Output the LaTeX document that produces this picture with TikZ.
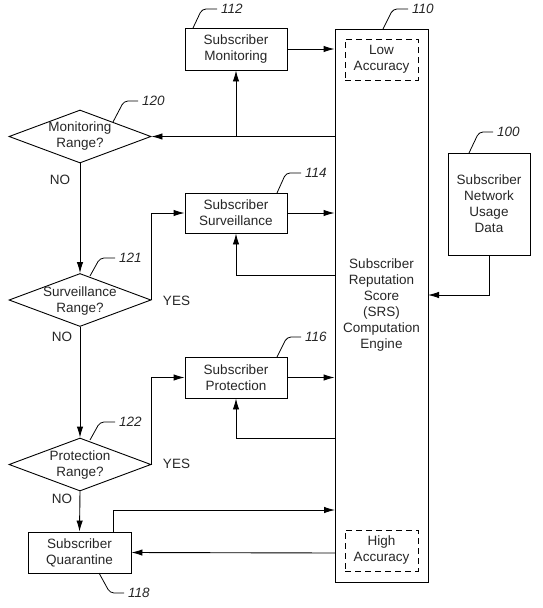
\documentclass[tikz,border=0pt]{standalone}
\usepackage{fontspec}
\setmainfont{Liberation Sans}
\usetikzlibrary{shapes.geometric,arrows.meta}
\tikzset{
  every node/.style={font=\fontsize{13.5}{16}\selectfont, text=black!85},
  box/.style={draw, line width=0.9pt, inner sep=0pt, align=center},
  dia/.style={draw, line width=0.9pt, shape=diamond, inner sep=0pt, minimum width=142pt, minimum height=53pt},
  dtxt/.style={align=center, inner sep=0pt},
  acc/.style={draw, line width=0.9pt, dash pattern=on 6pt off 4pt, inner sep=0pt, minimum width=73pt, minimum height=41pt, align=center},
  arr/.style={line width=0.9pt, -{Latex[length=11pt,width=6.5pt]}},
  ln/.style={line width=0.9pt},
  lead/.style={line width=0.8pt, rounded corners=4pt},
  num/.style={font=\fontsize{13.5}{16}\selectfont\itshape, anchor=west, inner sep=1pt},
  yn/.style={inner sep=0pt}
}
\begin{document}
\begin{tikzpicture}[x=1pt,y=-1pt]
\useasboundingbox (0,0) rectangle (542,608);
% engine
\node[box, minimum width=93pt, minimum height=553pt] (eng) at (381.5,305.5) {Subscriber\\Reputation\\Score\\(SRS)\\Computation\\Engine};
\node[acc] (low) at (381.5,59.5) {Low\\Accuracy};
\node[acc] (high) at (381.5,550.5) {High\\Accuracy};
% data
\node[box, minimum width=82pt, minimum height=102pt] (net) at (489,204) {Subscriber\\Network\\Usage\\Data};
% action boxes
\node[box, minimum width=102pt, minimum height=42pt] (mon) at (236,49) {Subscriber\\Monitoring};
\node[box, minimum width=102pt, minimum height=40pt] (sur) at (236,213) {Subscriber\\Surveillance};
\node[box, minimum width=102pt, minimum height=41pt] (pro) at (236,377.5) {Subscriber\\Protection};
\node[box, minimum width=103pt, minimum height=41pt] (qua) at (79.5,552.5) {Subscriber\\Quarantine};
% diamonds
\node[dia] (d1) at (80,136.5) {};
\node[dtxt] (d1t) at (80,136.5) {Monitoring\\Range?};
\node[dia] (d2) at (80,300) {};
\node[dtxt] (d2t) at (80,301) {Surveillance\\Range?};
\node[dia] (d3) at (80,464.5) {};
\node[dtxt] (d3t) at (80,465) {Protection\\Range?};
% yes/no labels
\node[yn] (no1) at (60,180) {NO};
\node[yn] (no2) at (62,337) {NO};
\node[yn] (no3) at (62,499) {NO};
\node[yn] (yes2) at (176.5,301) {YES};
\node[yn] (yes3) at (176.5,464) {YES};
% coordinates
\coordinate (s1) at (335,275);
\coordinate (p1) at (335,438);
\coordinate (q1) at (113,532);
\coordinate (q2) at (335,510);
\coordinate (q3) at (335,553);
\coordinate (n1) at (428,295);
% connectors
\draw[arr] (mon.east) -- (mon.east -| eng.west);
\draw[arr] (d1.east -| eng.west) -- (d1.east);
\draw[arr] (d1.east -| mon.south) -- (mon.south);
\draw[arr] (d1.south) -- (d2.north);
\draw[arr] (d2.east) |- (sur.west);
\draw[arr] (sur.east) -- (sur.east -| eng.west);
\draw[arr] (s1) -| (sur.south);
\draw[arr] (d2.south) -- (d3.north);
\draw[arr] (d3.east) |- (pro.west);
\draw[arr] (pro.east) -- (pro.east -| eng.west);
\draw[arr] (p1) -| (pro.south);
\draw[arr] (d3.south) -- (qua.north);
\draw[arr] (q1) |- (q2);
\draw[arr] (q3) -- (qua.east);
\draw[arr] (net.south) |- (n1);
% reference leaders
\draw[lead] (383,29) -- (393,9) -- (408,9);
\node[num] (l110) at (411,9) {110};
\draw[lead] (193,28) -- (202,9) -- (217,9);
\node[num] (l112) at (220,9) {112};
\draw[lead] (113,122) -- (124,101) -- (138,101);
\node[num] (l120) at (141,101) {120};
\draw[lead] (277,193) -- (286,173) -- (301,173);
\node[num] (l114) at (304,173) {114};
\draw[lead] (469,153) -- (479,132) -- (493,132);
\node[num] (l100) at (496,132) {100};
\draw[lead] (90,276) -- (100,258) -- (115,258);
\node[num] (l121) at (118,258) {121};
\draw[lead] (277,357) -- (287,337) -- (301,337);
\node[num] (l116) at (304,337) {116};
\draw[lead] (90,440) -- (100,422) -- (115,422);
\node[num] (l122) at (118,422) {122};
\draw[lead] (99,573) -- (110,593) -- (124,593);
\node[num] (l118) at (127,593) {118};
\end{tikzpicture}
\end{document}
